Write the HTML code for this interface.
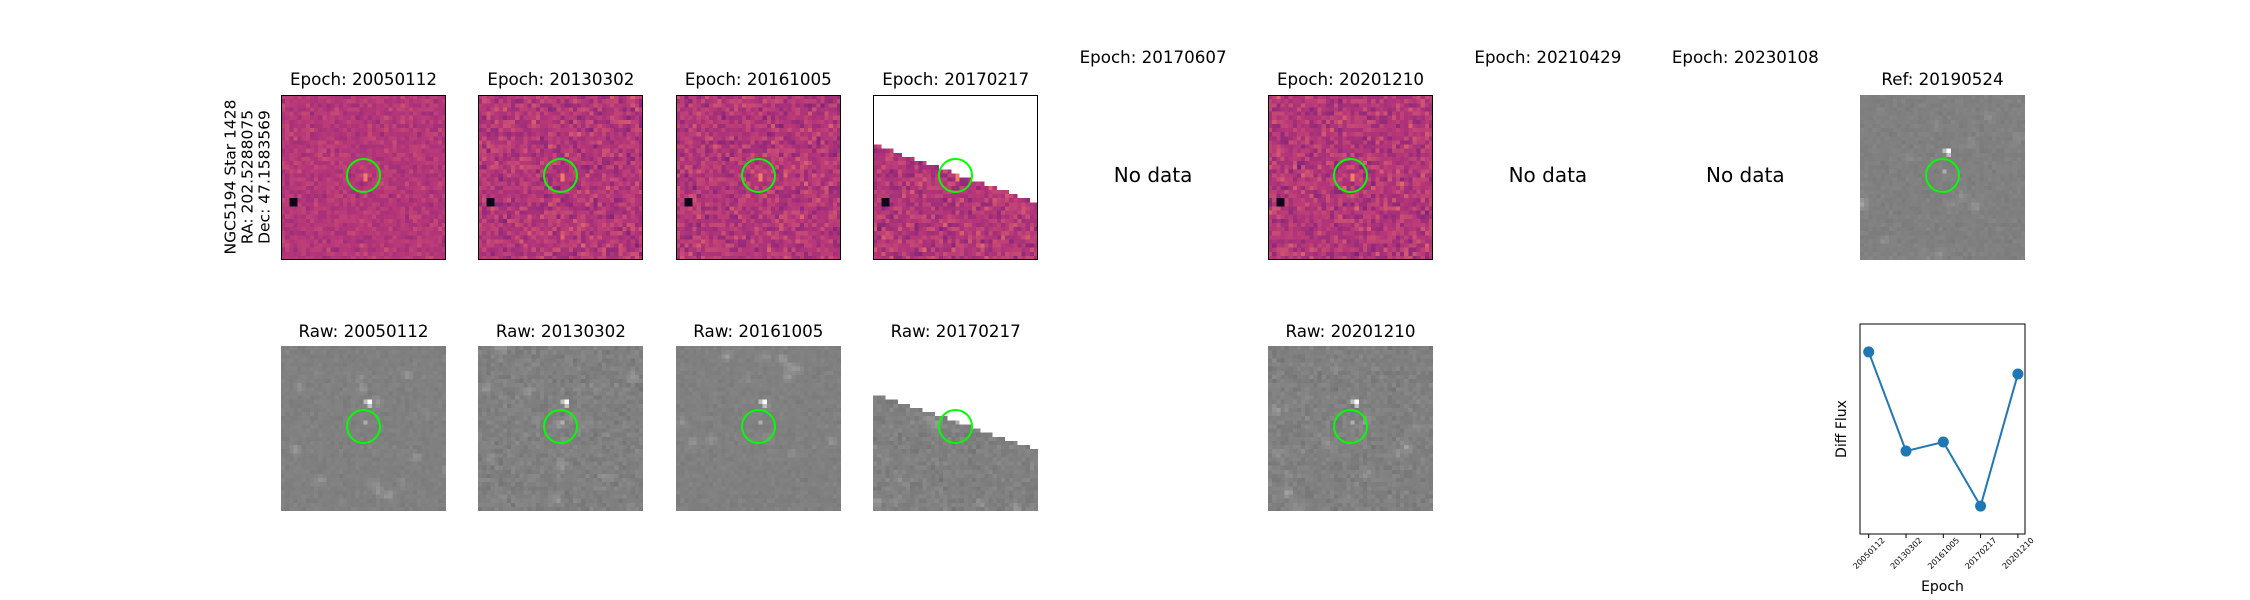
<!DOCTYPE html>
<html><head><meta charset="utf-8">
<style>
body{margin:0;background:#fff;width:2250px;height:600px;overflow:hidden;position:relative;font-family:"DejaVu Sans","Liberation Sans",sans-serif;color:#000}
.t{position:absolute;font-size:16.7px;text-align:center;width:260px;white-space:nowrap}
.nd{position:absolute;font-size:20px;text-align:center;width:200px}
canvas{position:absolute;width:165px;height:165px;image-rendering:pixelated}
.brd{position:absolute;width:163px;height:163px;border:1px solid #000}
.circ{position:absolute;width:31px;height:31px;border:2px solid #00ff00;border-radius:50%}
</style></head><body>
<div style="position:absolute;left:248px;top:177px;transform:translate(-50%,-50%) rotate(-90deg);font-size:15.5px;text-align:center;line-height:17px;white-space:nowrap">NGC5194 Star 1428<br>RA: 202.5288075<br>Dec: 47.1583569</div>
<div id="root"></div>
<svg id="lc" style="position:absolute;left:0;top:0" width="2250" height="600"></svg>
<script>
const epochs=["20050112","20130302","20161005","20170217","20170607","20201210","20210429","20230108"];
const hasData=[1,1,1,1,0,1,0,0];
const cats=["20050112","20130302","20161005","20170217","20201210"];
const flux=[0.867,0.395,0.438,0.133,0.762];

let seed=12345;
function rnd(){seed=(seed*1103515245+12345)&0x7fffffff;return seed/0x7fffffff;}
function gauss(){return (rnd()+rnd()+rnd()+rnd()-2)*0.87;}
function magma(v){
  const stops=[[0,[0,0,4]],[0.25,[80,18,123]],[0.5,[182,54,121]],[0.75,[251,136,97]],[1,[252,253,191]]];
  v=Math.max(0,Math.min(1,v));
  for(let i=1;i<stops.length;i++){if(v<=stops[i][0]){const a=stops[i-1],b=stops[i];const f=(v-a[0])/(b[0]-a[0]);return a[1].map((c,k)=>Math.round(c+(b[1][k]-c)*f));}}
  return stops[4][1];
}
const root=document.getElementById('root');
function colX(i){return 281+i*197.4;}
function panel(x,y,kind,noise,cut,border){
  const c=document.createElement('canvas');c.width=40;c.height=40;
  c.style.left=x+'px';c.style.top=y+'px';
  
  
  const ctx=c.getContext('2d');const im=ctx.createImageData(40,40);
  // faint blobs for raw
  const blobs=[];
  if(kind!=='diff'){for(let b=0;b<14;b++)blobs.push([rnd()*40,rnd()*40,10+rnd()*20]);}
  for(let r=0;r<40;r++)for(let q=0;q<40;q++){
    let v;let col;
    if(kind==='diff'){
      v=0.5+gauss()*noise;
      if(r>=19&&r<=20&&q===20)v=0.72;
      if((q===2||q===3)&&(r===25||r===26))v=0.05;
      col=magma(v);
    }else{
      v=128+gauss()*noise*45;
      for(const b of blobs){const d=(r-b[1])**2+(q-b[0])**2;v+=b[2]*Math.exp(-d/1.2);}
      if(r===13&&q===21)v=250;if(r===13&&q===20)v=190;if(r===14&&q===21)v=190;
      if(r===18&&q===20)v=175;
      v=Math.max(0,Math.min(255,v));col=[v,v,v];
    }
    if(cut){const edge=cut[0]+(cut[1]-cut[0])*q/39;const step=Math.floor(edge);if(r<step)col=[255,255,255];}
    const k=(r*40+q)*4;im.data[k]=col[0];im.data[k+1]=col[1];im.data[k+2]=col[2];im.data[k+3]=255;
  }
  ctx.putImageData(im,0,0);root.appendChild(c);
  if(border){const b=document.createElement('div');b.className='brd';b.style.left=x+'px';b.style.top=y+'px';
    
    
    root.appendChild(b);}
  const ci=document.createElement('div');ci.className='circ';ci.style.left=(x+82-17)+'px';ci.style.top=(y+80-17)+'px';
  
  
  root.appendChild(ci);
}
function title(txt,cx,cy,name){const d=document.createElement('div');d.className='t';d.textContent=txt;d.style.left=(cx-130)+'px';d.style.top=(cy-11)+'px';
  
  
  root.appendChild(d);}
epochs.forEach((e,i)=>{
  const x=colX(i),cx=x+82.5;
  if(hasData[i]){
    title('Epoch: '+e,cx,80,'epoch-title');
    const noise=i===0?0.06:0.1;
    panel(x,95,'diff',noise,i===3?[12.5,26.5]:null,true);
    title('Raw: '+e,cx,332,'raw-title');
    panel(x,346,'raw',i===0||i===2?0.12:0.22,i===3?[12,25.5]:null,false);
  }else{
    title('Epoch: '+e,cx,58,'epoch-title');
    const d=document.createElement('div');d.className='nd';d.textContent='No data';d.style.left=(cx-100)+'px';d.style.top='163px';
    
    
    root.appendChild(d);
  }
});
title('Ref: 20190524',1942.5,80,'ref-title');
panel(1860,95,'raw',0.12,null,false);

const svg=document.getElementById('lc');const NS='http://www.w3.org/2000/svg';
const L=1860,R=2025,T=324,B=534;
const xs=i=>L+8.7+i*37.3;
const ys=v=>B-v*(B-T);
function el(t,a,name){const e=document.createElementNS(NS,t);for(const k in a)e.setAttribute(k,a[k]);
  
  
  svg.appendChild(e);return e;}
el('polyline',{points:flux.map((v,i)=>xs(i)+','+ys(v)).join(' '),fill:'none',stroke:'#1f77b4','stroke-width':2},'flux-line');
flux.forEach((v,i)=>{el('circle',{cx:xs(i),cy:ys(v),r:5.5,fill:'#1f77b4'},'flux-point');});
el('rect',{x:L,y:T,width:R-L,height:B-T,fill:'none',stroke:'#000','stroke-width':1},'plot-frame');
cats.forEach((c,i)=>{
  el('line',{x1:xs(i),x2:xs(i),y1:B,y2:B+4,stroke:'#000'},'x-tick');
  const cx=xs(i),cy=B+19;
  const t=el('text',{x:cx,y:cy+3,'font-size':8,'text-anchor':'middle','font-family':'DejaVu Sans, sans-serif',transform:`rotate(-45 ${cx} ${cy})`},'x-tick-label');t.textContent=c;
});
const xl=el('text',{x:(L+R)/2,y:B+57,'font-size':14,'text-anchor':'middle','font-family':'DejaVu Sans, sans-serif'},'x-axis-title');xl.textContent='Epoch';
const yl=el('text',{x:1846,y:(T+B)/2,'font-size':14,'text-anchor':'middle','font-family':'DejaVu Sans, sans-serif',transform:`rotate(-90 1846 ${(T+B)/2})`},'y-axis-title');yl.textContent='Diff Flux';
</script>
</body></html>
